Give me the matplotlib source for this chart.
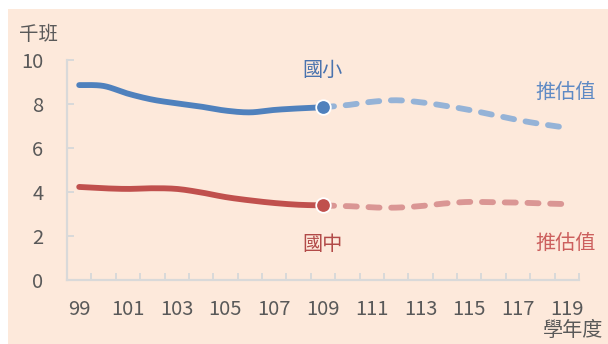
import numpy as np
import matplotlib
matplotlib.use("Agg")
import matplotlib.pyplot as plt
from matplotlib.patches import Rectangle

plt.rcParams['font.family'] = ['Noto Sans CJK TC', 'DejaVu Sans']

# School years (ROC calendar)
years = list(range(99, 120))
tick_labels = [str(y) for y in years[::2]]

# Thousands of classes, actual (99-109) and projected (109-119)
elem_actual = [8.86, 8.82, 8.47, 8.20, 8.03, 7.88, 7.70, 7.62, 7.73, 7.80, 7.85]
elem_proj = [7.85, 7.95, 8.10, 8.17, 8.08, 7.92, 7.73, 7.50, 7.27, 7.08, 6.92]
junior_actual = [4.23, 4.17, 4.14, 4.17, 4.14, 3.98, 3.77, 3.62, 3.50, 3.42, 3.39]
junior_proj = [3.39, 3.36, 3.30, 3.29, 3.36, 3.48, 3.55, 3.53, 3.52, 3.48, 3.45]

BLUE = '#4F81BD'
BLUE_LIGHT = '#95B3D7'
RED = '#C0504D'
RED_LIGHT = '#DA9694'
GREY = '#595959'
AXIS = '#D9D9D9'
BG = '#FDE9DB'


def smooth(xs, ys, n=24):
    """Catmull-Rom style smoothed curve through the given points."""
    xs = np.asarray(xs, float)
    ys = np.asarray(ys, float)
    P = np.column_stack([xs, ys])
    out = [P[0]]
    t = np.linspace(0, 1, n)[1:, None]
    for i in range(len(P) - 1):
        p0 = P[i - 1] if i > 0 else P[i]
        p1, p2 = P[i], P[i + 1]
        p3 = P[i + 2] if i + 2 < len(P) else P[i + 1]
        c1 = p1 + (p2 - p0) / 6.0
        c2 = p2 - (p3 - p1) / 6.0
        seg = ((1 - t) ** 3) * p1 + 3 * ((1 - t) ** 2) * t * c1 + 3 * (1 - t) * t ** 2 * c2 + t ** 3 * p2
        out.extend(seg)
    out = np.array(out)
    return out[:, 0], out[:, 1]


fig = plt.figure(figsize=(6.08, 3.44), dpi=100)
fig.patch.set_facecolor('white')
fig.patches.append(Rectangle((8 / 608, 0), 600 / 608, 335 / 344, transform=fig.transFigure,
                             facecolor=BG, edgecolor='none', zorder=-5))

ax = fig.add_axes([67 / 608, 64 / 344, 512 / 608, 220 / 344])
ax.set_facecolor('none')
ax.set_zorder(2)

x_all = np.arange(len(years))
x_act = x_all[:11]
x_proj = x_all[10:]

# Projections (dashed)
for xv, yv, c in [(x_proj, elem_proj, BLUE_LIGHT), (x_proj, junior_proj, RED_LIGHT)]:
    sx, sy = smooth(xv, yv)
    ax.plot(sx, sy, color=c, lw=4.2, dashes=(1.9, 2.0), dash_capstyle='round',
            solid_capstyle='round', zorder=3)

# Actual values (solid)
for xv, yv, c in [(x_act, elem_actual, BLUE), (x_act, junior_actual, RED)]:
    sx, sy = smooth(xv, yv)
    ax.plot(sx, sy, color=c, lw=4.2, solid_capstyle='round', zorder=4)
    ax.plot(xv[-1], yv[-1], 'o', ms=10.5, mfc=c, mec='white', mew=1.3, zorder=5)

ax.set_xlim(-0.5, len(years) - 0.5)
ax.set_ylim(0, 10)

for s in ['top', 'right']:
    ax.spines[s].set_visible(False)
for s in ['left', 'bottom']:
    ax.spines[s].set_color(AXIS)
    ax.spines[s].set_linewidth(1.6)

ax.set_yticks([0, 2, 4, 6, 8, 10])
ax.tick_params(axis='y', direction='in', length=5, width=1.4, color=AXIS,
               labelsize=14.5, labelcolor=GREY, pad=17)

ax.set_xticks(x_all[::2])
ax.set_xticklabels(tick_labels)
ax.set_xticks(np.arange(-0.5, len(years)), minor=True)
ax.tick_params(axis='x', which='major', length=0, labelsize=14.5, labelcolor=GREY, pad=14)
ax.tick_params(axis='x', which='minor', direction='in', length=5, width=1.4, color=AXIS)

# Labels
fig.text(39 / 608, 1 - 34 / 344, '千班', fontsize=14, color=GREY, ha='center', va='center')
fig.text(573 / 608, 1 - 331 / 344, '學年度', fontsize=14.5, color=GREY, ha='center', va='center')
fig.text(322 / 608, 1 - 70 / 344, '國小', fontsize=14.5, color='#4A73AE', ha='center', va='center')
fig.text(566 / 608, 1 - 92 / 344, '推估值', fontsize=14.5, color='#5F8AC4', ha='center', va='center')
fig.text(322 / 608, 1 - 244 / 344, '國中', fontsize=14.5, color='#B24A48', ha='center', va='center')
fig.text(566 / 608, 1 - 243 / 344, '推估值', fontsize=14.5, color='#CC5F5D', ha='center', va='center')

fig.savefig('out.png', dpi=100, facecolor=fig.get_facecolor())
